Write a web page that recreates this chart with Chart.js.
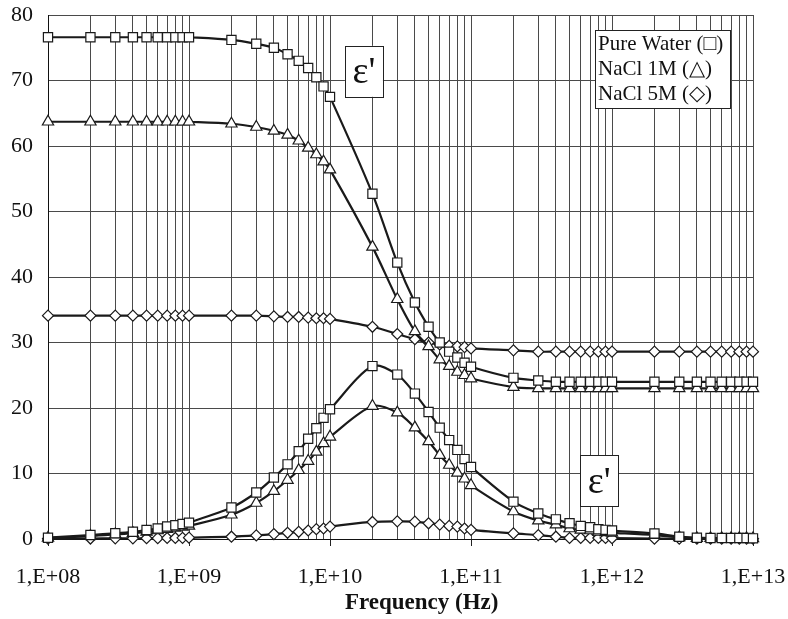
<!DOCTYPE html>
<html>
<head>
<meta charset="utf-8">
<script src="https://cdn.jsdelivr.net/npm/chart.js@4/dist/chart.umd.min.js"></script>
<style>
  html, body { margin: 0; padding: 0; background: #fff; }
  #wrap { width: 788px; height: 619px; }
</style>
</head>
<body>
<div id="wrap"><canvas id="c" width="788" height="619"></canvas></div>
<script>
// Frequencies (Hz)
const freq = [
  1e8, 2e8, 3e8, 4e8, 5e8, 6e8, 7e8, 8e8, 9e8,
  1e9, 2e9, 3e9, 4e9, 5e9, 6e9, 7e9, 8e9, 9e9,
  1e10, 2e10, 3e10, 4e10, 5e10, 6e10, 7e10, 8e10, 9e10,
  1e11, 2e11, 3e11, 4e11, 5e11, 6e11, 7e11, 8e11, 9e11,
  1e12, 2e12, 3e12, 4e12, 5e12, 6e12, 7e12, 8e12, 9e12,
  1e13
];

// Real part (epsilon')
const waterReal = [
  76.6, 76.6, 76.6, 76.6, 76.6, 76.6, 76.6, 76.6, 76.6,
  76.6, 76.2, 75.6, 75.0, 74.0, 73.0, 71.9, 70.5, 69.1,
  67.5, 52.7, 42.2, 36.1, 32.4, 30.0, 28.6, 27.7, 26.9,
  26.3, 24.6, 24.2, 24.0, 24.0, 24.0, 24.0, 24.0, 24.0,
  24.0, 24.0, 24.0, 24.0, 24.0, 24.0, 24.0, 24.0, 24.0,
  24.0
];
const nacl1Real = [
  63.7, 63.7, 63.7, 63.7, 63.7, 63.7, 63.7, 63.7, 63.7,
  63.7, 63.4, 62.9, 62.3, 61.7, 60.8, 59.7, 58.7, 57.6,
  56.4, 44.6, 36.6, 31.7, 29.4, 27.4, 26.4, 25.5, 25.0,
  24.5, 23.2, 23.0, 23.0, 23.0, 23.0, 23.0, 23.0, 23.0,
  23.0, 23.0, 23.0, 23.0, 23.0, 23.0, 23.0, 23.0, 23.0,
  23.0
];
const nacl5Real = [
  34.1, 34.1, 34.1, 34.1, 34.1, 34.1, 34.1, 34.1, 34.1,
  34.1, 34.1, 34.1, 34.0, 33.9, 33.9, 33.8, 33.7, 33.7,
  33.6, 32.4, 31.3, 30.5, 30.0, 29.7, 29.5, 29.4, 29.3,
  29.1, 28.8, 28.6, 28.6, 28.6, 28.6, 28.6, 28.6, 28.6,
  28.6, 28.6, 28.6, 28.6, 28.6, 28.6, 28.6, 28.6, 28.6,
  28.6
];

// Imaginary part (epsilon'')
const waterImag = [
  0.2, 0.6, 0.87, 1.1, 1.37, 1.6, 1.9, 2.1, 2.3,
  2.5, 4.8, 7.1, 9.4, 11.4, 13.4, 15.3, 16.9, 18.5,
  19.8, 26.4, 25.1, 22.2, 19.4, 17.0, 15.1, 13.6, 12.2,
  11.0, 5.7, 3.9, 3.0, 2.4, 2.0, 1.8, 1.5, 1.4,
  1.3, 0.85, 0.35, 0.2, 0.15, 0.15, 0.15, 0.15, 0.15,
  0.1
];
const nacl1Imag = [
  0.15, 0.45, 0.7, 0.9, 1.1, 1.3, 1.5, 1.7, 1.85,
  2.0, 3.7, 5.5, 7.3, 9.0, 10.5, 11.9, 13.3, 14.6,
  15.6, 20.3, 19.3, 17.0, 14.9, 12.8, 11.3, 10.1, 9.2,
  8.2, 4.2, 2.8, 2.2, 1.6, 1.4, 1.3, 1.1, 1.0,
  0.95, 0.6, 0.25, 0.12, 0.12, 0.12, 0.12, 0.12, 0.12,
  0.1
];
const nacl5Imag = [
  0.05, 0.07, 0.1, 0.1, 0.12, 0.13, 0.15, 0.16, 0.18,
  0.2, 0.35, 0.55, 0.75, 0.95, 1.1, 1.3, 1.5, 1.6,
  1.9, 2.6, 2.7, 2.65, 2.4, 2.2, 2.0, 1.9, 1.6,
  1.4, 0.85, 0.6, 0.35, 0.15, 0.15, 0.15, 0.15, 0.15,
  0.12, 0.05, 0.05, 0.05, 0.05, 0.05, 0.05, 0.05, 0.05,
  0.05
];

const legendLines = ['Pure Water (\u25A1)', 'NaCl 1M (\u25B3)', 'NaCl 5M (\u25C7)'];
const xTitle = 'Frequency (Hz)';
const yTicks = [0, 10, 20, 30, 40, 50, 60, 70, 80];

const SERIF = "'Liberation Serif', 'Times New Roman', serif";

function pts(vals) { return freq.map((f, i) => ({ x: f, y: vals[i] })); }
function ds(label, vals, style, r) {
  return {
    label: label,
    data: pts(vals),
    borderColor: '#1a1a1a',
    borderWidth: 2.2,
    backgroundColor: '#ffffff',
    pointStyle: style,
    pointRadius: r,
    pointHoverRadius: r,
    pointBackgroundColor: '#ffffff',
    pointBorderColor: '#1a1a1a',
    pointBorderWidth: 1.2,
    tension: 0.3,
    fill: false,
    clip: false
  };
}

function isDecade(v) {
  const e = Math.log10(v);
  return Math.abs(e - Math.round(e)) < 1e-9;
}

const annotPlugin = {
  id: 'annot',
  afterDatasetsDraw(chart) {
    const { ctx, chartArea, scales } = chart;
    ctx.save();
    // epsilon boxes placed at data coordinates
    const boxes = [
      { fx: 1.74e10, fy: 71.4 },
      { fx: 8.1e11, fy: 8.9 }
    ];
    boxes.forEach(b => {
      const cx = scales.x.getPixelForValue(b.fx);
      const cy = scales.y.getPixelForValue(b.fy);
      const w = 38, h = 51;
      ctx.fillStyle = '#fff';
      ctx.fillRect(cx - w / 2, cy - h / 2, w, h);
      ctx.strokeStyle = '#222';
      ctx.lineWidth = 1;
      ctx.strokeRect(Math.round(cx - w / 2) + 0.5, Math.round(cy - h / 2) + 0.5, w, h);
      ctx.fillStyle = '#111';
      ctx.font = '38px ' + SERIF;
      ctx.textAlign = 'center';
      ctx.textBaseline = 'middle';
      ctx.fillText("\u03B5'", cx, cy + 2);
    });
    // legend box
    const lx = chartArea.right - 158, ly = chartArea.top + 15;
    const lw = 135, lh = 78;
    ctx.fillStyle = '#fff';
    ctx.fillRect(lx, ly, lw, lh);
    ctx.strokeStyle = '#222';
    ctx.lineWidth = 1;
    ctx.strokeRect(Math.round(lx) + 0.5, Math.round(ly) + 0.5, lw, lh);
    ctx.fillStyle = '#111';
    ctx.font = '21px ' + SERIF;
    ctx.textAlign = 'left';
    ctx.textBaseline = 'middle';
    legendLines.forEach((t, i) => {
      ctx.fillText(t, lx + 3, ly + 14 + i * 25);
    });
    // x-axis title
    ctx.font = 'bold 23px ' + SERIF;
    ctx.textAlign = 'center';
    ctx.textBaseline = 'middle';
    ctx.fillText(xTitle, chartArea.left + (chartArea.right - chartArea.left) * 0.53, 603);
    ctx.restore();
  }
};

new Chart(document.getElementById('c'), {
  type: 'line',
  data: {
    datasets: [
      ds('Pure Water', waterReal, 'rect', 6.5),
      ds('NaCl 1M', nacl1Real, 'triangle', 6.5),
      ds('NaCl 5M', nacl5Real, 'rectRot', 5.5),
      ds('Pure Water', waterImag, 'rect', 6.5),
      ds('NaCl 1M', nacl1Imag, 'triangle', 6.5),
      ds('NaCl 5M', nacl5Imag, 'rectRot', 5.5)
    ]
  },
  options: {
    responsive: false,
    animation: false,
    devicePixelRatio: 1,
    layout: { autoPadding: false, padding: { left: 0, top: 15, right: 35, bottom: 0 } },
    plugins: {
      legend: { display: false },
      tooltip: { enabled: false }
    },
    scales: {
      x: {
        type: 'logarithmic',
        min: 1e8,
        max: 1e13,
        afterBuildTicks(scale) { scale.ticks = freq.map(v => ({ value: v })); },
        afterFit(scale) {
          scale.height = 80;
          scale.paddingLeft = 0; scale.paddingRight = 0;
          scale.paddingTop = 0; scale.paddingBottom = 0;
        },
        border: { display: true, color: '#111', width: 1 },
        grid: {
          color: '#4a4a4a',
          lineWidth: 1,
          drawTicks: true,
          tickLength: 7,
          tickColor: (c) => (c.tick && isDecade(c.tick.value)) ? '#222' : 'rgba(0,0,0,0)'
        },
        ticks: {
          autoSkip: false,
          maxRotation: 0,
          minRotation: 0,
          padding: 18,
          color: '#111',
          font: { family: SERIF, size: 22 },
          callback: (v) => isDecade(v) ? '1,E+' + String(Math.round(Math.log10(v))).padStart(2, '0') : ''
        },
        title: { display: false }
      },
      y: {
        type: 'linear',
        min: 0,
        max: 80,
        afterBuildTicks(scale) { scale.ticks = yTicks.map(v => ({ value: v })); },
        afterFit(scale) {
          scale.width = 48;
          scale.paddingLeft = 0; scale.paddingRight = 0;
          scale.paddingTop = 0; scale.paddingBottom = 0;
        },
        border: { display: true, color: '#111', width: 1 },
        grid: { color: '#4a4a4a', lineWidth: 1, drawTicks: false },
        ticks: {
          padding: 15,
          color: '#111',
          font: { family: SERIF, size: 22 }
        }
      }
    }
  },
  plugins: [annotPlugin]
});
</script>
</body>
</html>
